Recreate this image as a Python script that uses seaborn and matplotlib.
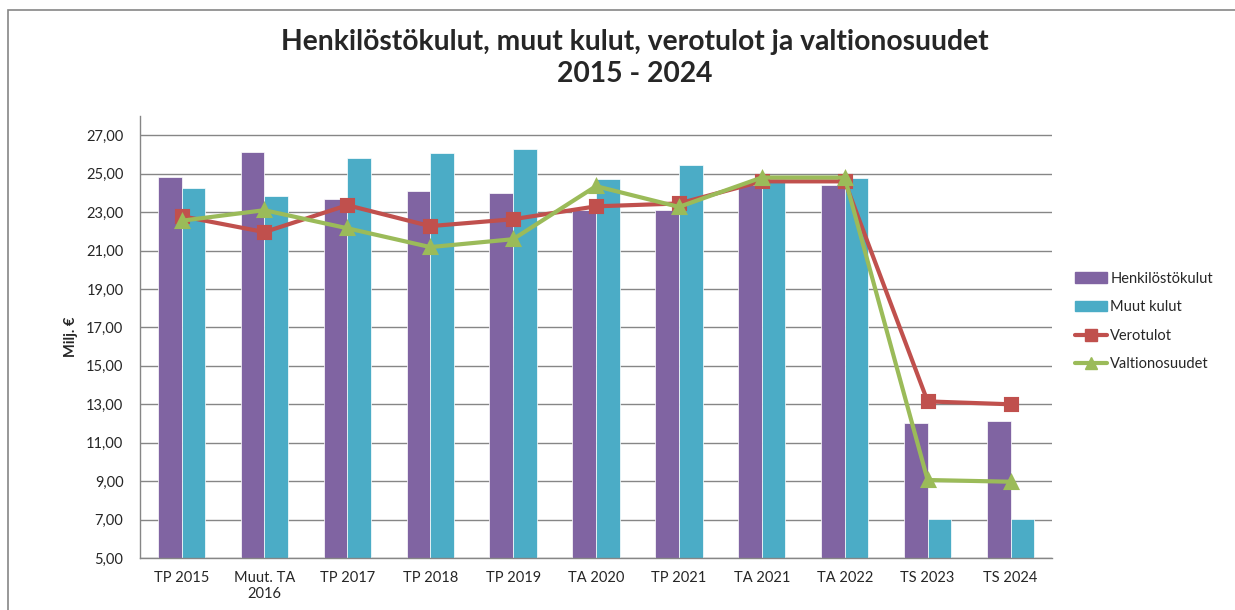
import pandas as pd
import matplotlib.pyplot as plt
import seaborn as sns
from matplotlib.patches import Rectangle
from matplotlib.lines import Line2D

# ------------------------
# Data (Milj. €)
# ------------------------
categories = ["TP 2015", "Muut. TA\n2016", "TP 2017", "TP 2018", "TP 2019", "TA 2020",
              "TP 2021", "TA 2021", "TA 2022", "TS 2023", "TS 2024"]
henkilostokulut = [24.82, 26.12, 23.67, 24.09, 23.98, 23.10, 23.10, 24.40, 24.40, 12.02, 12.13]
muut_kulut = [24.24, 23.83, 25.80, 26.07, 26.27, 24.70, 25.47, 24.70, 24.80, 7.03, 7.03]
verotulot = [22.79, 21.96, 23.36, 22.27, 22.63, 23.30, 23.45, 24.60, 24.60, 13.15, 13.00]
valtionosuudet = [22.55, 23.10, 22.16, 21.18, 21.59, 24.35, 23.27, 24.80, 24.80, 9.06, 8.97]

purple = "#8064A2"
blue = "#4BACC6"
red = "#C0504D"
green = "#9BBB59"

bars = pd.DataFrame({
    "cat": categories * 2,
    "val": henkilostokulut + muut_kulut,
    "series": ["Henkilöstökulut"] * len(categories) + ["Muut kulut"] * len(categories),
})
lines = pd.DataFrame({
    "cat": categories * 2,
    "val": verotulot + valtionosuudet,
    "series": ["Verotulot"] * len(categories) + ["Valtionosuudet"] * len(categories),
})

# ------------------------
# Figure
# ------------------------
sns.set_style("white")
plt.rcParams["font.family"] = ["Lato", "DejaVu Sans"]

fig = plt.figure(figsize=(12.35, 6.1), dpi=100)
ax = fig.add_axes([0.1134, 0.0852, 0.7384, 0.7246])

sns.barplot(data=bars, x="cat", y="val", hue="series", palette=[purple, blue],
            width=0.57, saturation=1, errorbar=None, ax=ax, legend=False,
            edgecolor="white", linewidth=0.5)
sns.pointplot(data=lines, x="cat", y="val", hue="series", palette=[red, green],
              markers=["s", "^"], linestyles=["-", "-"], errorbar=None, ax=ax,
              legend=False, markersize=9, linewidth=3)

ax.set_ylim(5, 28)
ax.set_xlim(-0.5, len(categories) - 0.5)
ax.set_yticks(range(5, 28, 2))
ax.set_yticklabels([f"{v:.2f}".replace(".", ",") for v in range(5, 28, 2)], fontsize=10.5)
ax.tick_params(axis="x", labelsize=10.5, length=0, pad=9)
ax.tick_params(axis="y", length=0, pad=12)
ax.set_xlabel("")
ax.set_ylabel("Milj. €", fontsize=10.5, fontweight="bold", labelpad=6)
ax.yaxis.grid(True, color="#868686", linewidth=1)
ax.set_axisbelow(True)
for s in ["top", "right"]:
    ax.spines[s].set_visible(False)
for s in ["left", "bottom"]:
    ax.spines[s].set_color("#868686")
    ax.spines[s].set_linewidth(1)

fig.text(0.514, 0.905, "Henkilöstökulut, muut kulut, verotulot ja valtionosuudet\n2015 - 2024",
         ha="center", va="center", fontsize=20.3, fontweight="bold", linespacing=1.25)

# legend
handles = [
    Rectangle((0, 0), 1, 1, color=purple),
    Rectangle((0, 0), 1, 1, color=blue),
    Line2D([], [], color=red, marker="s", lw=3, markersize=8),
    Line2D([], [], color=green, marker="^", lw=3, markersize=8),
]
labels = ["Henkilöstökulut", "Muut kulut", "Verotulot", "Valtionosuudet"]
fig.legend(handles, labels, loc="center left", bbox_to_anchor=(0.866, 0.473),
           frameon=False, fontsize=10.5, handlelength=2.2, handletextpad=0.2,
           labelspacing=1.0, borderaxespad=0)

# chart border
fig.patches.append(Rectangle((8 / 1235, -0.1), 1.2, 1.1 - 10 / 610, transform=fig.transFigure,
                             fill=False, edgecolor="#868686", linewidth=1.2))

fig.savefig("out.png", dpi=100)
